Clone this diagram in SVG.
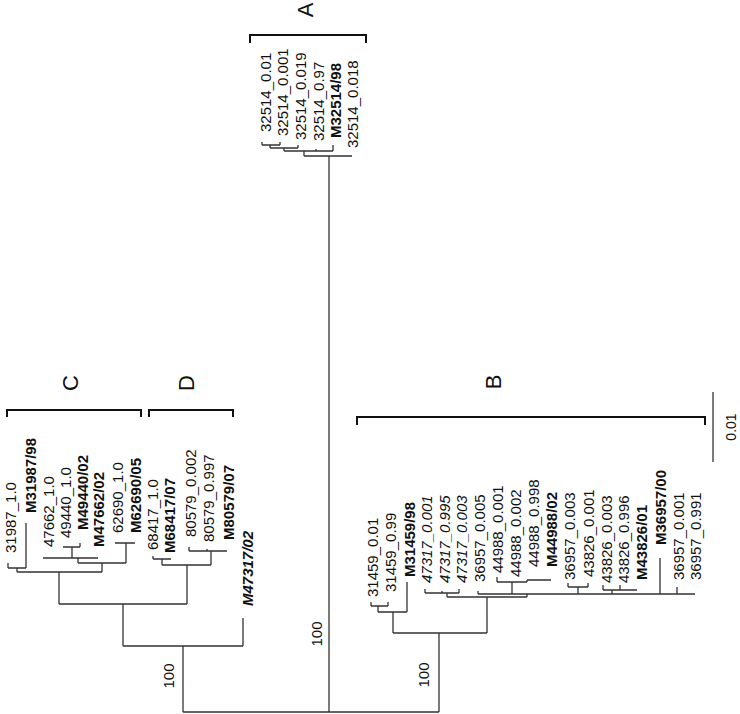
<svg xmlns="http://www.w3.org/2000/svg" width="740" height="714" viewBox="0 0 740 714">
<style>
.t{font-family:"Liberation Sans",Arial,sans-serif;font-size:15px;fill:#111;dominant-baseline:central}
.b{font-weight:bold}
.i{font-style:italic}
.big{font-family:"Liberation Sans",Arial,sans-serif;font-size:22px;fill:#111;text-anchor:middle;dominant-baseline:central}
.sup{text-anchor:middle}
.ln{fill:none;stroke:#333;stroke-width:1.3}
.br{fill:none;stroke:#111;stroke-width:2}
</style>
<rect width="740" height="714" fill="#fff"/>
<g id="connectors">
<path class="ln" d="M183,712 H439 M329,712 V156"/>
<path class="ln" d="M304,156 H352 M304,156 V151 M284,151 H333 M333,151 V145 M316,151 V149 M284,151 V148 M270,148 H298 M298,148 V145 M270,148 V145 M262,145 H280 M262,145 V142 M280,145 V142"/>
<path class="ln" d="M183,712 V646 M123,646 H243 M243,646 V618 M123,646 V604 M59,604 H187 M59,604 V572 M17,572 H102 M17,572 V568 M8,568 H26 M8,568 V563 M26,568 V523 M102,572 V563 M78,563 H126 M78,563 V558 M43,558 H98 M72,558 V547 M63,547 H80 M80,547 V543 M126,563 V543 M115,543 H135"/>
<path class="ln" d="M187,604 V565 M162,565 H211 M162,565 V559 M153,559 H171 M153,559 V556 M211,565 V551 M189,551 H227 M189,551 V547 M207,551 V549"/>
<path class="ln" d="M439,712 V633 M393,633 H487 M393,633 V612 M378,612 H407 M407,612 V582 M378,612 V606 M371,606 H388 M371,606 V602 M388,606 V602 M487,633 V597 M447,597 H527 M447,597 V593 M425,593 H459 M425,593 V589 M459,593 V589 M442,593 V591 M527,597 V594 M478,594 H695 M478,594 V591 M512,594 V582 M497,582 H527 M497,582 V577 M527,582 V580 M527,580 H551 M578,594 V587 M568,587 H588 M568,587 V583 M588,587 V583 M612,594 V590 M603,590 H637 M603,590 V585 M620,590 V585 M660,594 V558 M677,594 V587"/>
<path class="br" d="M250,43 V35 H366 V43 M7,417 V410 H141 V417 M149,417 V410 H233 V417 M357,425 V417 H705 V425"/>
<path class="ln" d="M713,392 V462" stroke-width="1.5"/>
</g>
<g id="clade-labels">
<text class="big" transform="translate(305,10) rotate(-90)">A</text>
<text class="big" transform="translate(493,382) rotate(-90)">B</text>
<text class="big" transform="translate(70,383) rotate(-90)">C</text>
<text class="big" transform="translate(186,383) rotate(-90)">D</text>
</g>
<g id="scale"><text class="t sup" transform="translate(731,427) rotate(-90)" style="font-size:14px">0.01</text></g>
<g id="support">
<text class="t sup" transform="translate(316,634) rotate(-90)">100</text>
<text class="t sup" transform="translate(168,676) rotate(-90)">100</text>
<text class="t sup" transform="translate(423,675) rotate(-90)">100</text>
</g>
<g id="n-32514_0.01"><text class="t" transform="translate(265,132) rotate(-90)">32514_0.01</text></g>
<g id="n-32514_0.001"><text class="t" transform="translate(282,136) rotate(-90)">32514_0.001</text></g>
<g id="n-32514_0.019"><text class="t" transform="translate(300,140) rotate(-90)">32514_0.019</text></g>
<g id="n-32514_0.97"><text class="t" transform="translate(318,141) rotate(-90)">32514_0.97</text></g>
<g id="n-M32514-98"><text class="t b" transform="translate(335,138) rotate(-90)">M32514/98</text></g>
<g id="n-32514_0.018"><text class="t" transform="translate(352,148) rotate(-90)">32514_0.018</text></g>
<g id="n-31987_1.0"><text class="t" transform="translate(10,553) rotate(-90)">31987_1.0</text></g>
<g id="n-M31987-98"><text class="t b" transform="translate(30,513) rotate(-90)">M31987/98</text></g>
<g id="n-47662_1.0"><text class="t" transform="translate(48,547) rotate(-90)">47662_1.0</text></g>
<g id="n-49440_1.0"><text class="t" transform="translate(65,538) rotate(-90)">49440_1.0</text></g>
<g id="n-M49440-02"><text class="t b" transform="translate(82,530) rotate(-90)">M49440/02</text></g>
<g id="n-M47662-02"><text class="t b" transform="translate(98,547) rotate(-90)">M47662/02</text></g>
<g id="n-62690_1.0"><text class="t" transform="translate(117,533) rotate(-90)">62690_1.0</text></g>
<g id="n-M62690-05"><text class="t b" transform="translate(135,533) rotate(-90)">M62690/05</text></g>
<g id="n-68417_1.0"><text class="t" transform="translate(152,550) rotate(-90)">68417_1.0</text></g>
<g id="n-M68417-07"><text class="t b" transform="translate(169,553) rotate(-90)">M68417/07</text></g>
<g id="n-80579_0.002"><text class="t" transform="translate(190,537) rotate(-90)">80579_0.002</text></g>
<g id="n-80579_0.997"><text class="t" transform="translate(208,542) rotate(-90)">80579_0.997</text></g>
<g id="n-M80579-07"><text class="t b" transform="translate(228,540) rotate(-90)">M80579/07</text></g>
<g id="n-M47317-02"><text class="t b i" transform="translate(247,606) rotate(-90)">M47317/02</text></g>
<g id="n-31459_0.01"><text class="t" transform="translate(372,597) rotate(-90)">31459_0.01</text></g>
<g id="n-31459_0.99"><text class="t" transform="translate(390,592) rotate(-90)">31459_0.99</text></g>
<g id="n-M31459-98"><text class="t b" transform="translate(409,577) rotate(-90)">M31459/98</text></g>
<g id="n-47317_0.001"><text class="t i" transform="translate(426,583) rotate(-90)">47317_0.001</text></g>
<g id="n-47317_0.995"><text class="t i" transform="translate(444,583) rotate(-90)">47317_0.995</text></g>
<g id="n-47317_0.003"><text class="t i" transform="translate(461,583) rotate(-90)">47317_0.003</text></g>
<g id="n-36957_0.005"><text class="t" transform="translate(479,582) rotate(-90)">36957_0.005</text></g>
<g id="n-44988_0.001"><text class="t" transform="translate(497,573) rotate(-90)">44988_0.001</text></g>
<g id="n-44988_0.002"><text class="t" transform="translate(515,577) rotate(-90)">44988_0.002</text></g>
<g id="n-44988_0.998"><text class="t" transform="translate(533,567) rotate(-90)">44988_0.998</text></g>
<g id="n-M44988-02"><text class="t b" transform="translate(551,567) rotate(-90)">M44988/02</text></g>
<g id="n-36957_0.003"><text class="t" transform="translate(569,580) rotate(-90)">36957_0.003</text></g>
<g id="n-43826_0.001"><text class="t" transform="translate(588,577) rotate(-90)">43826_0.001</text></g>
<g id="n-43826_0.003"><text class="t" transform="translate(606,583) rotate(-90)">43826_0.003</text></g>
<g id="n-43826_0.996"><text class="t" transform="translate(623,583) rotate(-90)">43826_0.996</text></g>
<g id="n-M43826-01"><text class="t b" transform="translate(641,580) rotate(-90)">M43826/01</text></g>
<g id="n-M36957-00"><text class="t b" transform="translate(660,545) rotate(-90)">M36957/00</text></g>
<g id="n-36957_0.001"><text class="t" transform="translate(678,580) rotate(-90)">36957_0.001</text></g>
<g id="n-36957_0.991"><text class="t" transform="translate(695,580) rotate(-90)">36957_0.991</text></g>
</svg>
